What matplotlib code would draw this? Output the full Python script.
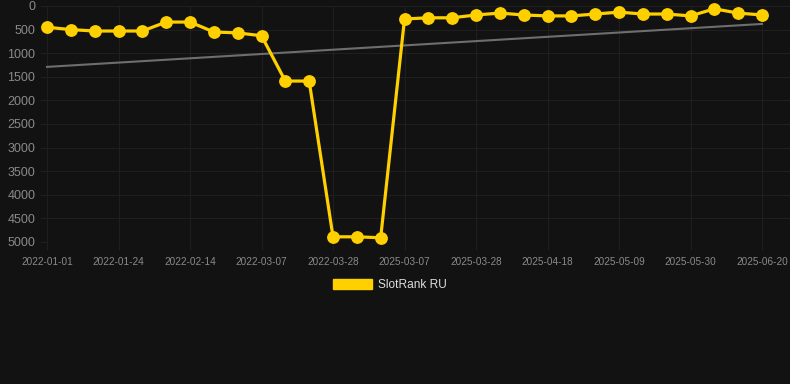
import matplotlib
matplotlib.use("Agg")
import matplotlib.pyplot as plt
from matplotlib.patches import Patch

dates = ["2022-01-01", "2022-01-08", "2022-01-16", "2022-01-24", "2022-01-31",
         "2022-02-07", "2022-02-14", "2022-02-21", "2022-02-28", "2022-03-07",
         "2022-03-14", "2022-03-21", "2022-03-28", "2022-04-04", "2022-04-11",
         "2025-03-07", "2025-03-14", "2025-03-21", "2025-03-28", "2025-04-04",
         "2025-04-11", "2025-04-18", "2025-04-25", "2025-05-02", "2025-05-09",
         "2025-05-16", "2025-05-23", "2025-05-30", "2025-06-06", "2025-06-13",
         "2025-06-20"]
rank = [450, 500, 530, 530, 530, 340, 340, 550, 570, 630,
        1590, 1590, 4890, 4890, 4910, 275, 250, 250, 190, 150,
        190, 210, 210, 170, 130, 170, 170, 210, 60, 150, 190]
trend_start = 1290
trend_end = 380
series_name = "SlotRank RU"
y_ticks = [0, 500, 1000, 1500, 2000, 2500, 3000, 3500, 4000, 4500, 5000]

BG = "#121212"
GOLD = "#FFD000"
GRID = "#1f1f1f"
TXT = "#8a8a8a"

plt.rcParams['font.family'] = ['Liberation Sans', 'DejaVu Sans']

W, H = 790, 384
fig = plt.figure(figsize=(W / 100, H / 100), dpi=100, facecolor=BG)
left, right, top, bottom = 47, 790, 6, 242
ax = fig.add_axes([left / W, 1 - bottom / H, (right - left) / W, (bottom - top) / H])
ax.set_facecolor(BG)

x = list(range(len(rank)))
step = (762 - 47) / 30.0
ax.set_xlim(0, (right - left) / step)
ax.set_ylim(5000, 0)

ax.plot([x[0], x[-1]], [trend_start, trend_end], color="#6e6e6e", lw=1.5, zorder=2, clip_on=False)
ax.plot(x, rank, color=GOLD, lw=2.3, marker="o", markersize=8.2, markerfacecolor=GOLD,
        markeredgecolor=GOLD, zorder=3, clip_on=False)

ax.set_yticks(y_ticks)
ax.set_yticklabels([str(v) for v in y_ticks])
ax.set_xticks(x[::3])
ax.set_xticklabels(dates[::3])

ax.grid(True, color=GRID, lw=0.8)
ax.set_axisbelow(True)
for s in ax.spines.values():
    s.set_visible(False)
ax.tick_params(axis="y", length=5, width=0.8, color=GRID, pad=3.5, labelsize=9, labelcolor=TXT)
ax.tick_params(axis="x", length=6, width=0.8, color=GRID, pad=5, labelsize=7.2, labelcolor=TXT)

handle = Patch(facecolor=GOLD, edgecolor=GOLD)
leg = fig.legend([handle], [series_name], loc="center", bbox_to_anchor=(390 / W, 1 - 285 / H),
                 frameon=False, fontsize=8.6, handlelength=3.3, handleheight=0.95,
                 handletextpad=0.5, labelcolor="#dddddd")

fig.savefig("out.png", dpi=100, facecolor=BG)
